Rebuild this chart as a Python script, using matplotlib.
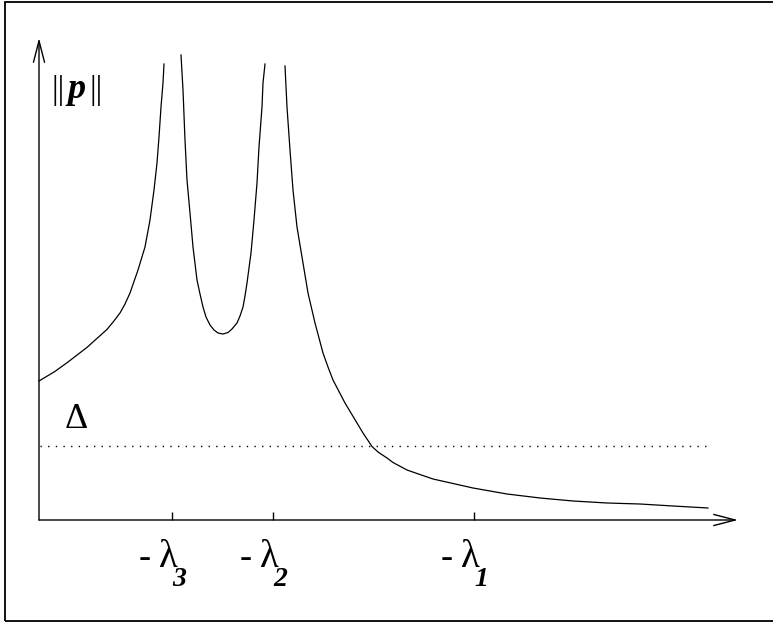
import matplotlib.pyplot as plt
from matplotlib.patches import Rectangle

plt.rcParams['font.family'] = ['Liberation Serif', 'DejaVu Serif']

# branch left of -lambda3
b1_x = [0.00, 0.16, 0.29, 0.48, 0.68, 0.745, 0.81, 0.86, 0.91, 0.99, 1.06, 1.11, 1.15, 1.18, 1.20, 1.22, 1.24, 1.25]
b1_y = [1.39, 1.486, 1.58, 1.726, 1.906, 1.985, 2.07, 2.16, 2.27, 2.50, 2.73, 3.00, 3.30, 3.57, 3.83, 4.13, 4.37, 4.56]
# branch between -lambda3 and -lambda2
b2_x = [1.42, 1.44, 1.46, 1.48, 1.51, 1.54, 1.58, 1.61, 1.64, 1.67, 1.71, 1.75, 1.79, 1.84,
        1.89, 1.93, 1.98, 2.01, 2.04, 2.06, 2.08, 2.12, 2.15, 2.18, 2.20, 2.23, 2.24, 2.26]
b2_y = [4.65, 4.30, 3.80, 3.40, 3.07, 2.73, 2.40, 2.26, 2.13, 2.03, 1.95, 1.90, 1.87, 1.86,
        1.875, 1.91, 1.97, 2.04, 2.13, 2.24, 2.37, 2.67, 3.00, 3.37, 3.73, 4.13, 4.37, 4.56]
# branch right of -lambda2
b3_x = [2.46, 2.48, 2.51, 2.54, 2.58, 2.64, 2.69, 2.76, 2.84, 2.89, 2.94, 3.06, 3.18, 3.24,
        3.33, 3.39, 3.48, 3.54, 3.68, 3.78, 3.94, 4.34, 4.68, 5.01, 5.34, 5.68, 6.01, 6.34, 6.69]
b3_y = [4.54, 4.13, 3.70, 3.30, 2.93, 2.57, 2.27, 1.97, 1.67, 1.53, 1.40, 1.17, 0.97, 0.87,
        0.735, 0.68, 0.62, 0.575, 0.50, 0.465, 0.41, 0.32, 0.26, 0.22, 0.19, 0.17, 0.16, 0.14, 0.12]

delta = 0.74
delta_x = [0.01, 6.69]
tick_pos = [1.33, 2.34, 4.35]
tick_sub = ['3', '2', '1']

fig = plt.figure(figsize=(7.73, 6.23), dpi=100)
ax = fig.add_axes([39 / 773, 103 / 623, 699 / 773, 482 / 623])
ax.set_xlim(0, 6.99)
ax.set_ylim(0, 4.82)
for s in ax.spines.values():
    s.set_visible(False)
ax.set_yticks([])
ax.set_xticks(tick_pos)
ax.set_xticklabels([])
ax.tick_params(axis='x', direction='in', length=5.8, width=1.0, color='black')

# axes with open arrowheads
arr = dict(arrowstyle='->,head_length=15.5,head_width=4', mutation_scale=1,
           lw=1.0, color='black', shrinkA=0, shrinkB=0)
ax.annotate('', xy=(6.99, 0), xytext=(0, 0), arrowprops=arr, annotation_clip=False)
ax.annotate('', xy=(0, 4.82), xytext=(0, 0), arrowprops=arr, annotation_clip=False)

for bx, by in [(b1_x, b1_y), (b2_x, b2_y), (b3_x, b3_y)]:
    ax.plot(bx, by, color='black', lw=0.9, clip_on=False, solid_joinstyle='round')

ax.plot(delta_x, [delta, delta], color='black', lw=1.0, linestyle=(0, (1, 4.5)))

fs = 26
ax.text(0.37, 1.01, '\u0394', fontsize=fs, ha='center', va='center')
ax.text(0.19, 4.215, '||', fontsize=24, ha='center', va='baseline')
ax.text(0.38, 4.215, 'p', fontsize=fs, ha='center', va='baseline',
        fontweight='bold', style='italic')
ax.text(0.575, 4.215, '||', fontsize=24, ha='center', va='baseline')

for t, sub in zip(tick_pos, tick_sub):
    ax.text(t - 0.27, -0.47, '-', fontsize=fs, ha='center', va='baseline')
    ax.text(t - 0.033, -0.47, '\u03bb', fontsize=28, ha='center', va='baseline')
    ax.text(t + 0.075, -0.665, sub, fontsize=20, ha='center', va='baseline',
            fontweight='bold', style='italic')

frame = Rectangle((4.5 / 773, 2.5 / 623), 1.0, 619 / 623, transform=fig.transFigure,
                  fill=False, lw=1.3, edgecolor='black')
fig.add_artist(frame)

fig.savefig('out.png', dpi=100)
